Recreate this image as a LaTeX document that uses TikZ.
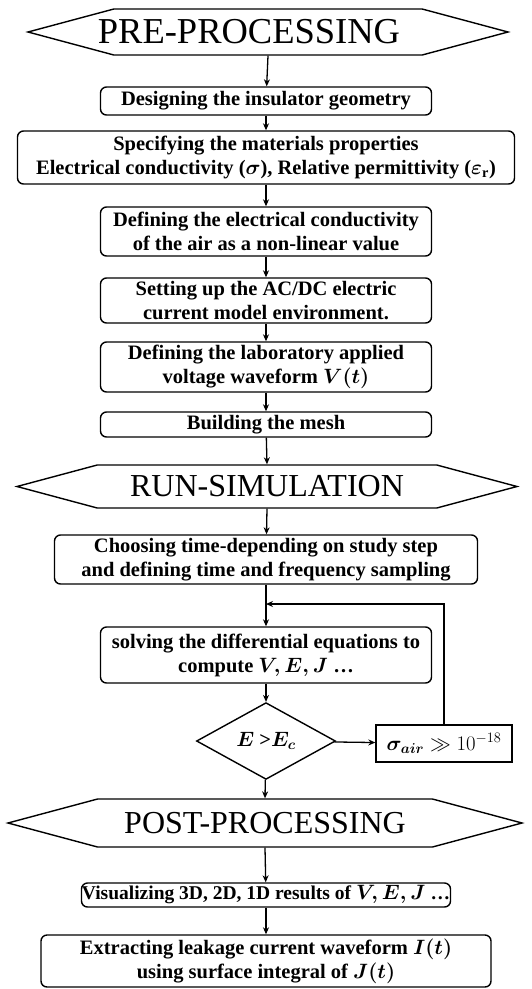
\documentclass[tikz,border=0pt]{standalone}
\usepackage{amsmath,amssymb}
\usepackage{fontspec}
\setmainfont{Liberation Serif}
\usetikzlibrary{shapes.geometric,shapes.symbols,arrows.meta}

\tikzset{
  stepbox/.style={draw, line width=1.4pt, rounded corners=6pt, align=center, inner sep=0pt,
    font=\bfseries\boldmath\fontsize{20.5}{24}\selectfont},
  phase/.style={draw, line width=1.4pt, shape=signal, signal to=west and east,
    signal pointer angle=30, inner sep=0pt, font=\fontsize{32}{36}\selectfont},
  arr/.style={-{Stealth[length=7pt, width=6pt]}, line width=1.3pt},
}

\begin{document}
\begin{tikzpicture}[x=1pt, y=-1pt]
    \useasboundingbox (0,0) rectangle (531,989);

    % pre-processing
    \node[phase, minimum width=480pt, minimum height=46pt, font=\fontsize{36.5}{40}\selectfont] (pre) at (268,32) {\hspace*{-38pt}PRE-PROCESSING};
    \node[stepbox, minimum width=331pt, minimum height=28pt] (geom) at (266,101) {Designing the insulator geometry};
    \node[stepbox, minimum width=497pt, minimum height=53pt] (mat) at (266,157.5) {Specifying the materials properties\\ Electrical conductivity ($\sigma$), Relative permittivity ($\varepsilon_{\mathrm{r}}$)};
    \node[stepbox, minimum width=331pt, minimum height=49pt] (air) at (266,231.5) {Defining the electrical conductivity\\ of the air as a non-linear value};
    \node[stepbox, minimum width=331pt, minimum height=45pt] (acdc) at (266,300.5) {Setting up the AC/DC electric\\ current model environment.};
    \node[stepbox, minimum width=331pt, minimum height=50pt] (volt) at (266,367) {Defining the laboratory applied\\ voltage waveform $V(t)$};
    \node[stepbox, minimum width=331pt, minimum height=25pt] (mesh) at (266,424.5) {Building the mesh};

    % simulation
    \node[phase, minimum width=500pt, minimum height=43pt] (run) at (267,486.5) {RUN-SIMULATION};
    \node[stepbox, minimum width=423pt, minimum height=49pt] (study) at (266,559.5) {Choosing time-depending on study step\\ and defining time and frequency sampling};
    \node[stepbox, minimum width=331pt, minimum height=56pt] (solve) at (266,655) {solving the differential equations to\\ compute $V, E, J$ \ldots};
    \node[draw, diamond, line width=1.4pt, inner sep=0pt, minimum width=139pt, minimum height=72pt,
      font=\bfseries\boldmath\fontsize{20.5}{24}\selectfont] (check) at (266,741) {$E$ >$E_c$};
    \node[draw, line width=1.4pt, inner sep=0pt, minimum width=136pt, minimum height=37pt,
      font=\fontsize{20.5}{24}\selectfont] (sig) at (444,743.5) {$\boldsymbol{\sigma_{air}} \gg 10^{-18}$};
    \coordinate (loop) at (266,604);

    % post-processing
    \node[phase, minimum width=514pt, minimum height=48pt] (post) at (265,823) {POST-PROCESSING};
    \node[stepbox, minimum width=369pt, minimum height=24pt, font=\bfseries\boldmath\fontsize{19.5}{24}\selectfont] (vis) at (266,895) {Visualizing 3D, 2D, 1D results of $V, E, J$ \ldots};
    \node[stepbox, minimum width=450pt, minimum height=52pt] (leak) at (266,961) {Extracting leakage current waveform $I(t)$\\ using surface integral of $J(t)$};

    \draw[arr] (pre.south) -- (geom);
    \draw[arr] (geom) -- (mat);
    \draw[arr] (mat) -- (air);
    \draw[arr] (air) -- (acdc);
    \draw[arr] (acdc) -- (volt);
    \draw[arr] (volt) -- (mesh);
    \draw[arr] (mesh) -- (run.north);
    \draw[arr] (run.south) -- (study);
    \draw[arr] (study) -- (solve);
    \draw[arr] (solve) -- (check);
    \draw[arr] (check) -- (sig);
    \draw[arr] (sig.north) |- (loop);
    \draw[arr] (check) -- (post.north);
    \draw[arr] (post.south) -- (vis);
    \draw[arr] (vis) -- (leak);
\end{tikzpicture}
\end{document}
